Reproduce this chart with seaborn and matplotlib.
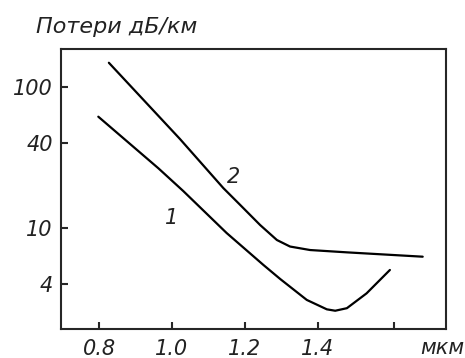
import matplotlib
matplotlib.use("Agg")
import matplotlib.pyplot as plt
import seaborn as sns
import pandas as pd

# Curve 1 (wavelength, мкм ; losses, дБ/км)
x1 = [0.798, 0.963, 1.031, 1.150, 1.251, 1.297, 1.370, 1.425, 1.448, 1.480, 1.534, 1.598]
y1 = [61.6, 26.5, 18.3, 9.22, 5.47, 4.35, 3.09, 2.65, 2.59, 2.70, 3.44, 5.04]
# Curve 2
x2 = [0.827, 1.022, 1.141, 1.187, 1.242, 1.288, 1.324, 1.379, 1.480, 1.688]
y2 = [148.6, 42.8, 19.2, 14.6, 10.5, 8.22, 7.39, 6.98, 6.72, 6.26]

yticks = [4, 10, 40, 100]
ytick_labels = ["4", "10", "40", "100"]
xticks = [0.8, 1.0, 1.2, 1.4, 1.61]
xtick_labels = ["0.8", "1.0", "1.2", "1.4", ""]

sns.set_style("ticks")
plt.rcParams['font.family'] = ['DejaVu Sans']

df = pd.concat([
    pd.DataFrame({"x": x1, "y": y1, "curve": "1"}),
    pd.DataFrame({"x": x2, "y": y2, "curve": "2"}),
])

fig = plt.figure(figsize=(4.65, 3.58), dpi=100)
ax = fig.add_axes([0.1312, 0.0810, 0.8280, 0.7821])
sns.lineplot(data=df, x="x", y="y", units="curve", estimator=None, sort=False,
             color="black", linewidth=1.6, ax=ax, legend=False)
ax.set_yscale("log")
ax.set_xlim(0.6957, 1.752)
ax.set_ylim(1.922, 186)
ax.set_yticks(yticks)
ax.set_yticklabels(ytick_labels)
ax.minorticks_off()
ax.set_xticks(xticks)
ax.set_xticklabels(xtick_labels)
ax.tick_params(direction="in", length=5, width=1.5, labelsize=15)
ax.tick_params(axis="y", pad=6)
ax.tick_params(axis="x", pad=7)
for lab in ax.get_xticklabels() + ax.get_yticklabels():
    lab.set_fontstyle("italic")
    lab.set_color("#222222")
for s in ax.spines.values():
    s.set_linewidth(1.5)
    s.set_visible(True)
ax.set_xlabel("")
ax.set_ylabel("")

ax.text(0.9994, 11.7, "1", fontsize=15, fontstyle="italic", ha="center", va="center", color="#222222")
ax.text(1.1685, 23.1, "2", fontsize=15, fontstyle="italic", ha="center", va="center", color="#222222")
fig.text(442 / 465, 1 - 354 / 358, "мкм", fontsize=15,
         fontstyle="italic", ha="center", va="baseline", color="#222222")
fig.text(36 / 465, 1 - 33 / 358, "Потери дБ/км", fontsize=16, fontstyle="italic",
         ha="left", va="baseline", color="#222222")

fig.savefig("out.png", dpi=100)
